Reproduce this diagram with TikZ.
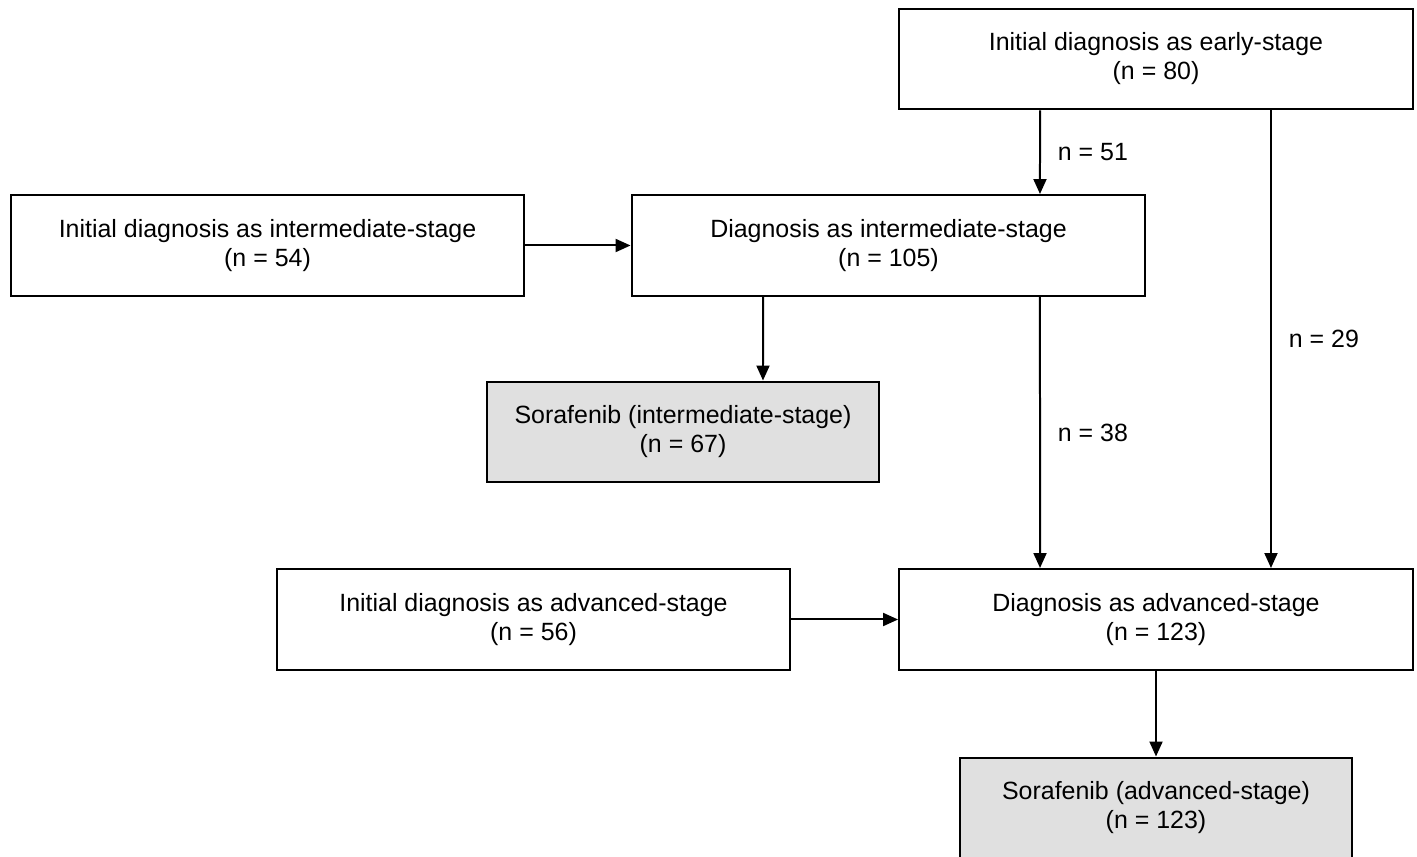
\documentclass[tikz,border=0pt]{standalone}
\usepackage{fontspec}
\setmainfont{Liberation Sans}
\usetikzlibrary{arrows.meta, positioning}
\definecolor{boxgray}{HTML}{E0E0E0}

\begin{document}
\begin{tikzpicture}[x=0.02cm, y=-0.02cm, -{Triangle[length=0.3cm,width=0.26cm]}, line width=0.04cm,
    font=\fontsize{14.2}{16.5}\selectfont,
    stage box/.style={rectangle, draw, -, align=center, inner sep=0pt, minimum width=10.28cm, minimum height=2.02cm},
    drug box/.style={stage box, fill=boxgray, minimum width=7.86cm},
    count label/.style={midway, right, xshift=0.22cm}]

    % Frame
    \useasboundingbox (0,0) rectangle (1417,857);

    % Nodes
    \node[stage box] (early) at (1156,59) {Initial diagnosis as early-stage\\(n = 80)};
    \node[stage box] (iinter) at (267.5,245.5) {Initial diagnosis as intermediate-stage\\(n = 54)};
    \node[stage box] (dinter) at (888.5,245.5) {Diagnosis as intermediate-stage\\(n = 105)};
    \node[drug box] (sinter) at (683,432) {Sorafenib (intermediate-stage)\\(n = 67)};
    \node[stage box] (iadv) at (533.5,619.5) {Initial diagnosis as advanced-stage\\(n = 56)};
    \node[stage box] (dadv) at (1156,619.5) {Diagnosis as advanced-stage\\(n = 123)};
    \node[drug box] (sadv) at (1156,808) {Sorafenib (advanced-stage)\\(n = 123)};

    % Arrows between nodes
    \draw ([xshift=-2.32cm]early.south) -- node[count label] {n = 51} ([xshift=3.03cm]dinter.north);
    \draw ([xshift=2.3cm]early.south) -- node[count label] {n = 29} ([xshift=2.3cm]dadv.north);
    \draw ([xshift=3.03cm]dinter.south) -- node[count label] {n = 38} ([xshift=-2.32cm]dadv.north);
    \draw ([xshift=-2.51cm]dinter.south) -- ([xshift=1.6cm]sinter.north);
    \draw (iinter.east) -- (dinter.west);
    \draw (iadv.east) -- (dadv.west);
    \draw (dadv.south) -- (sadv.north);

\end{tikzpicture}
\end{document}
